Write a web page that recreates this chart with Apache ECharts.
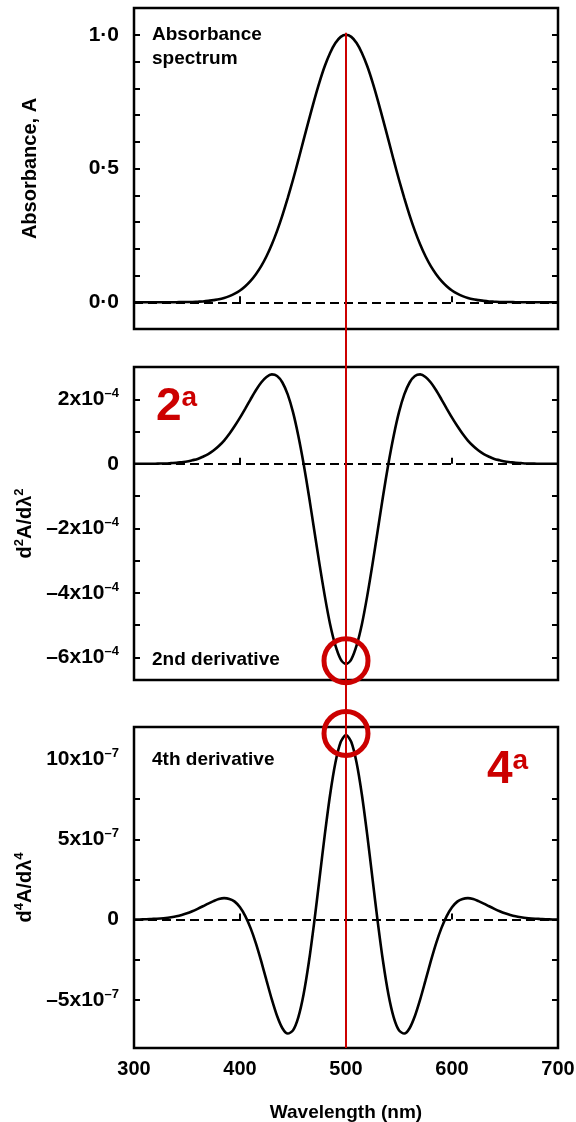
<!DOCTYPE html>
<html><head><meta charset="utf-8">
<script src="https://cdn.jsdelivr.net/npm/echarts@6/dist/echarts.min.js"></script>
<style>html,body{margin:0;padding:0;background:#fff}#c{width:576px;height:1122px}</style>
</head><body><div id="c"></div>
<script>
// Wavelength samples (nm)
const wavelengths = [300,305,310,315,320,325,330,335,340,345,350,355,360,365,370,375,380,385,390,395,400,405,410,415,420,425,430,435,440,445,450,455,460,465,470,475,480,485,490,495,500,505,510,515,520,525,530,535,540,545,550,555,560,565,570,575,580,585,590,595,600,605,610,615,620,625,630,635,640,645,650,655,660,665,670,675,680,685,690,695,700];
// Absorbance A
const absorbance = [0,0,0,0,0,0,0,0,0,0.001,0.001,0.001,0.002,0.003,0.005,0.008,0.011,0.016,0.023,0.032,0.044,0.060,0.080,0.105,0.135,0.172,0.216,0.267,0.325,0.389,0.458,0.531,0.607,0.682,0.755,0.823,0.883,0.932,0.969,0.992,1.000,0.992,0.969,0.932,0.883,0.823,0.755,0.682,0.607,0.531,0.458,0.389,0.325,0.267,0.216,0.172,0.135,0.105,0.080,0.060,0.044,0.032,0.023,0.016,0.011,0.008,0.005,0.003,0.002,0.001,0.001,0.001,0,0,0,0,0,0,0,0,0];
// 2nd derivative, units of 1e-4
const deriv2 = [0,0,0,0,0,0.01,0.01,0.02,0.03,0.05,0.07,0.11,0.15,0.22,0.30,0.41,0.55,0.72,0.93,1.17,1.43,1.71,2.00,2.28,2.52,2.69,2.77,2.72,2.52,2.15,1.60,0.87,0.00,-0.99,-2.05,-3.11,-4.10,-4.97,-5.63,-6.06,-6.20,-6.06,-5.63,-4.97,-4.10,-3.11,-2.05,-0.99,0.00,0.87,1.60,2.15,2.52,2.72,2.77,2.69,2.52,2.28,2.00,1.71,1.43,1.17,0.93,0.72,0.55,0.41,0.30,0.22,0.15,0.11,0.07,0.05,0.03,0.02,0.01,0.01,0,0,0,0,0];
// 4th derivative, units of 1e-7
const deriv4 = [0.01,0.01,0.02,0.03,0.05,0.07,0.10,0.15,0.21,0.29,0.39,0.52,0.67,0.83,1.00,1.15,1.28,1.34,1.29,1.12,0.77,0.22,-0.53,-1.48,-2.59,-3.79,-4.97,-6.01,-6.77,-7.10,-6.90,-6.09,-4.65,-2.63,-0.17,2.55,5.29,7.78,9.77,11.06,11.50,11.06,9.77,7.78,5.29,2.55,-0.17,-2.63,-4.65,-6.09,-6.90,-7.10,-6.77,-6.01,-4.97,-3.79,-2.59,-1.48,-0.53,0.22,0.77,1.12,1.29,1.34,1.28,1.15,1.00,0.83,0.67,0.52,0.39,0.29,0.21,0.15,0.10,0.07,0.05,0.03,0.02,0.01,0.01];

const xTickLabels = [300,400,500,600,700];
const xTicks = [400,500,600];
const absTickLabels = [0,0.5,1.0];
const absTicks = [0,0.1,0.2,0.3,0.4,0.5,0.6,0.7,0.8,0.9,1.0];
const d2TickLabels = [-6,-4,-2,0,2];
const d2Ticks = [-6,-5,-4,-3,-2,-1,0,1,2];
const d4TickLabels = [-5,0,5,10];
const d4Ticks = [-5,-2.5,0,2.5,5,7.5];
const peakWavelength = 500;

const FONT = "'Liberation Sans Narrow','Arial Narrow','Liberation Sans',sans-serif";
const RED = '#cc0000';
const RICH = {
  m:{fontFamily:FONT,fontWeight:'bold',fontSize:20,color:'#000',lineHeight:24},
  s:{fontFamily:FONT,fontWeight:'bold',fontSize:13,color:'#000',verticalAlign:'top',lineHeight:24}
};
const RICH_LBL = {
  m:{fontFamily:FONT,fontWeight:'bold',fontSize:21,color:'#000',lineHeight:24},
  s:{fontFamily:FONT,fontWeight:'bold',fontSize:13,color:'#000',verticalAlign:'top',lineHeight:24}
};

function expFmt(exp){
  return function(v){
    if (Math.abs(v) < 1e-9) return '0';
    return '{m|' + (v < 0 ? '\u2013' : '') + Math.abs(v) + 'x10}{s|\u2013' + exp + '}';
  };
}

function yPair(gi, min, max, ticks, labels, fmt, name, nameGap){
  const tick = {show:true, inside:true, length:6, customValues:ticks, lineStyle:{color:'#000', width:2}};
  return [{
    type:'value', gridIndex:gi, min:min, max:max, position:'left',
    axisLine:{show:false}, splitLine:{show:false}, axisTick:tick,
    axisLabel:{customValues:labels, formatter:fmt, margin:15, color:'#000', fontFamily:FONT, fontWeight:'bold', fontSize:21, rich:RICH_LBL},
    name:name, nameLocation:'middle', nameGap:nameGap,
    nameTextStyle:{color:'#000', fontFamily:FONT, fontWeight:'bold', fontSize:20, rich:RICH}
  },{
    type:'value', gridIndex:gi, min:min, max:max, position:'right',
    axisLine:{show:false}, splitLine:{show:false}, axisTick:tick,
    axisLabel:{show:false}
  }];
}

function xAx(gi, showLabel){
  return {
    type:'value', gridIndex:gi, min:300, max:700, interval:100,
    axisLine:{show:false}, splitLine:{show:false},
    axisTick:{show:true, inside:true, length:6, customValues:xTicks, lineStyle:{color:'#000', width:2}},
    axisLabel:{show:showLabel, customValues:xTickLabels, margin:11, color:'#000', fontFamily:FONT, fontWeight:'bold', fontSize:20},
    name: showLabel ? 'Wavelength (nm)' : '', nameLocation:'middle', nameGap:55,
    nameTextStyle:{color:'#000', fontFamily:FONT, fontWeight:'bold', fontSize:19}
  };
}

function curve(gi, yi, values){
  return {
    type:'line', xAxisIndex:gi, yAxisIndex:yi, showSymbol:false, smooth:0.3, silent:true,
    data: wavelengths.map((w,i)=>[w, values[i]]),
    lineStyle:{color:'#000', width:2.6},
    markLine:{silent:true, symbol:'none', label:{show:false},
      lineStyle:{color:'#000', width:2, type:[9,5]}, data:[{yAxis:0}]}
  };
}

const gridBase = {left:134, right:18, show:true, borderColor:'#000', borderWidth:2.5, backgroundColor:'transparent', containLabel:false, outerBoundsMode:'none'};
const chart = echarts.init(document.getElementById('c'), null, {renderer:'canvas'});
chart.setOption({
  animation:false,
  backgroundColor:'#fff',
  grid:[
    Object.assign({top:8, height:321}, gridBase),
    Object.assign({top:367, height:313}, gridBase),
    Object.assign({top:727, height:321}, gridBase)
  ],
  xAxis:[xAx(0,false), xAx(1,false), xAx(2,true)],
  yAxis:[].concat(
    yPair(0, -0.1, 1.1, absTicks, absTickLabels, v => v.toFixed(1).replace('.', '\u00b7'), 'Absorbance, A', 94),
    yPair(1, -6.7, 3.0, d2Ticks, d2TickLabels, expFmt(4), '{m|d}{s|2}{m|A/d\u03bb}{s|2}', 94),
    yPair(2, -8, 12, d4Ticks, d4TickLabels, expFmt(7), '{m|d}{s|4}{m|A/d\u03bb}{s|4}', 94)
  ),
  series:[curve(0,0,absorbance), curve(1,2,deriv2), curve(2,4,deriv4)]
});

const pTop = chart.convertToPixel({xAxisIndex:0, yAxisIndex:0}, [peakWavelength, 1.0]);
const pBot = chart.convertToPixel({xAxisIndex:2, yAxisIndex:4}, [peakWavelength, -8]);
const c1 = chart.convertToPixel({xAxisIndex:1, yAxisIndex:2}, [peakWavelength, -6.1]);
const c2 = chart.convertToPixel({xAxisIndex:2, yAxisIndex:4}, [peakWavelength, 11.6]);

function label(txt, x, y){
  return {type:'text', x:x, y:y, z:50, style:{text:txt, fill:'#000', font:'bold 19px ' + FONT, verticalAlign:'top', align:'left'}};
}
function redLabel(num, x, y){
  return {type:'text', x:x, y:y, z:60, style:{
    text:'{a|' + num + '}{b|a}',
    rich:{
      a:{fill:RED, color:RED, fontFamily:"'Liberation Sans',Arial,sans-serif", fontWeight:'bold', fontSize:46, lineHeight:46, verticalAlign:'bottom'},
      b:{fill:RED, color:RED, fontFamily:"'Liberation Sans',Arial,sans-serif", fontWeight:'bold', fontSize:28, lineHeight:46, verticalAlign:'top'}
    }}};
}

chart.setOption({
  graphic:[
    {type:'line', z:40, shape:{x1:pTop[0], y1:pTop[1]-2, x2:pBot[0], y2:pBot[1]}, style:{stroke:RED, lineWidth:2}},
    {type:'circle', z:41, shape:{cx:c1[0], cy:c1[1], r:22}, style:{fill:'none', stroke:RED, lineWidth:5}},
    {type:'circle', z:41, shape:{cx:c2[0], cy:c2[1], r:22}, style:{fill:'none', stroke:RED, lineWidth:5}},
    label('Absorbance', 152, 25),
    label('spectrum', 152, 49),
    label('2nd derivative', 152, 650),
    label('4th derivative', 152, 750),
    redLabel('2', 156, 384),
    redLabel('4', 487, 747)
  ]
});
</script></body></html>
